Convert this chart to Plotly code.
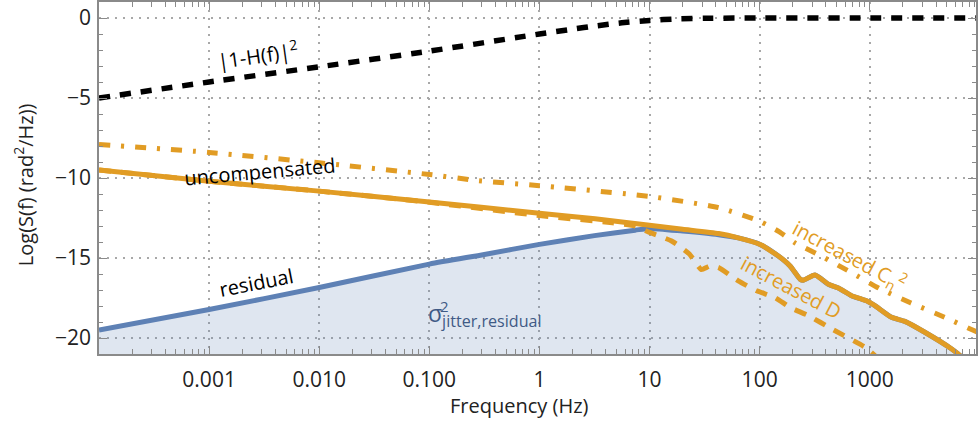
import plotly.graph_objects as go

ORANGE = "#E19C24"
BLUE = "#5E81B5"
GRID = "#a8a8a8"
FRAME = "#8a8a8a"

# |1-H(f)|^2  (black dashed)
h_f = [1e-4, 1e-3, 1e-2, 1e-1, 1, 2, 3.2, 5.6, 10, 18, 32, 100, 1000, 10000]
h_v = [-5.0, -4.0, -3.05, -2.07, -1.0, -0.7, -0.5, -0.3, -0.15, -0.06, -0.02, 0, 0, 0]

# uncompensated (orange solid)
unc_f = [1e-4, 1e-3, 1e-2, 1e-1, 1, 3.2, 10, 20, 42.4, 64, 101, 148, 189, 233, 249, 318,
         421, 519, 684, 843, 935, 1114, 1578, 2084, 3162, 5508, 6310, 8000, 10000]
unc_v = [-9.5, -10.2, -10.82, -11.5, -12.2, -12.55, -12.95, -13.2, -13.47, -13.74, -14.15, -14.88, -15.5, -16.32, -16.39, -16.06,
         -16.64, -16.88, -17.36, -17.57, -17.67, -17.98, -18.71, -18.96, -19.64, -20.67, -20.98, -21.6, -22.2]

# increased D (orange dashed)
d_f = [1e-4, 1e-3, 1e-2, 1e-1, 1, 4.6, 7.4, 10, 16, 23, 29.5, 35.5, 42.4, 64, 94, 138, 189, 277, 451, 903, 1030, 1300]
d_v = [-9.5, -10.2, -10.82, -11.52, -12.35, -12.8, -13.0, -13.4, -13.95, -14.75, -15.72, -15.5, -15.6, -16.43, -17.05, -17.47, -18.09, -18.6, -19.43, -20.57, -20.9, -21.5]

# increased Cn^2 (orange dash-dot)
c_f = [1e-4, 1e-3, 1e-2, 1e-1, 0.28, 1, 10, 42.4, 100, 150, 209, 363, 676, 1259, 2344, 4786, 8913, 10000]
c_v = [-7.9, -8.4, -9.05, -9.78, -10.17, -10.48, -11.15, -11.85, -12.7, -13.35, -14.05, -14.88, -15.9, -16.95, -17.8, -18.7, -19.55, -19.7]

# residual (blue, filled) - low part, then it joins the uncompensated curve
res_f_low = [1e-4, 1e-3, 1e-2, 1e-1, 0.316, 1, 3.16, 7.4, 10, 20, 42.4]
res_v_low = [-19.5, -18.22, -16.84, -15.38, -14.78, -14.15, -13.6, -13.26, -13.15, -13.32, -13.55]
res_f = res_f_low + unc_f[9:]
res_v = res_v_low + unc_v[9:]

base_y = [-30, -30]

x_tickvals = [0.001, 0.01, 0.1, 1, 10, 100, 1000]
x_ticktext = ["0.001", "0.010", "0.100", "1", "10", "100", "1000"]
x_minor = [m * 10.0 ** e for e in range(-4, 4) for m in range(2, 10)]
y_tickvals = [0, -5, -10, -15, -20]

fig = go.Figure()
fig.add_trace(go.Scatter(x=[res_f[0], res_f[-1]], y=base_y, mode="lines",
                         line=dict(width=0), hoverinfo="skip", showlegend=False))
fig.add_trace(go.Scatter(x=res_f, y=res_v, mode="lines", fill="tonexty",
                         fillcolor="rgba(94,129,181,0.2)",
                         line=dict(color=BLUE, width=5, shape="spline", smoothing=0.6),
                         showlegend=False))
fig.add_trace(go.Scatter(x=h_f, y=h_v, mode="lines",
                         line=dict(color="black", width=5.5, dash="11px,10px", shape="spline", smoothing=0.6),
                         showlegend=False))
fig.add_trace(go.Scatter(x=c_f, y=c_v, mode="lines",
                         line=dict(color=ORANGE, width=5, dash="11px,11px,3px,11px", shape="spline", smoothing=0.5),
                         showlegend=False))
fig.add_trace(go.Scatter(x=d_f, y=d_v, mode="lines",
                         line=dict(color=ORANGE, width=5, dash="12px,10px", shape="spline", smoothing=0.5),
                         showlegend=False))
fig.add_trace(go.Scatter(x=unc_f, y=unc_v, mode="lines",
                         line=dict(color=ORANGE, width=5, shape="spline", smoothing=0.5),
                         showlegend=False))

font_main = "Open Sans"
anns = [
    dict(x=-2.56, y=-2.27, text="|1-H(f)|<sup>2</sup>", textangle=-8, font=dict(color="black", size=20)),
    dict(x=-2.54, y=-9.6, text="uncompensated", textangle=-5, font=dict(color="black", size=20)),
    dict(x=-2.57, y=-16.55, text="residual", textangle=-11, font=dict(color="black", size=20)),
    dict(x=-1.03, y=-18.55, text="σ<sub>jitter,residual</sub>", xanchor="left",
         font=dict(color="#3F5A85", size=23)),
    dict(x=-0.86, y=-18.0, text="2", xanchor="center", font=dict(color="#3F5A85", size=15)),
    dict(x=2.82, y=-14.85, text="increased C<sub>n</sub><sup>2</sup>", textangle=28, font=dict(color=ORANGE, size=20)),
    dict(x=2.288, y=-16.86, text="increased D", textangle=28, font=dict(color=ORANGE, size=20)),
]
for a in anns:
    a.setdefault("xanchor", "center")
    fig.add_annotation(xref="x", yref="y", showarrow=False, yanchor="middle", **a)

fig.add_annotation(xref="paper", yref="paper", x=(520 - 99) / 879, y=(354 - 406) / 354,
                   text="Frequency (Hz)", showarrow=False, xanchor="center", yanchor="middle",
                   font=dict(size=20, color="#222"))
fig.add_annotation(xref="paper", yref="paper", x=(24 - 99) / 879, y=(354 - 184) / 354,
                   text="Log(S(f) (rad<sup>2</sup>/Hz))", showarrow=False, textangle=-90,
                   xanchor="center", yanchor="middle", font=dict(size=20, color="#222"))

axis_common = dict(showline=True, linecolor=FRAME, linewidth=1.5, mirror="allticks",
                   ticks="inside", ticklen=8, tickwidth=1.2, tickcolor=FRAME,
                   showgrid=True, gridcolor=GRID, gridwidth=2, griddash="2px,6px",
                   zeroline=False, tickfont=dict(size=21, color="#222"))

fig.update_xaxes(type="log", range=[-4, 3.965], tickmode="array", tickvals=x_tickvals,
                 ticktext=x_ticktext, ticklabelstandoff=6,
                 minor=dict(tickmode="array", tickvals=x_minor, ticks="inside", ticklen=5,
                            tickcolor=FRAME, tickwidth=1, showgrid=False),
                 **axis_common)
fig.update_yaxes(range=[-21, 1], tickmode="array", tickvals=y_tickvals, ticklabelstandoff=2,
                 minor=dict(dtick=1, ticks="inside", ticklen=4, tickcolor=FRAME, tickwidth=1, showgrid=False),
                 **axis_common)

fig.update_layout(width=978, height=426, margin=dict(l=99, r=0, t=0, b=72),
                  paper_bgcolor="white", plot_bgcolor="white",
                  font=dict(family=font_main, size=20, color="#222"), showlegend=False)

fig.write_html("out.html", config={"displayModeBar": False},
               post_script="document.body.style.margin='0px';")
